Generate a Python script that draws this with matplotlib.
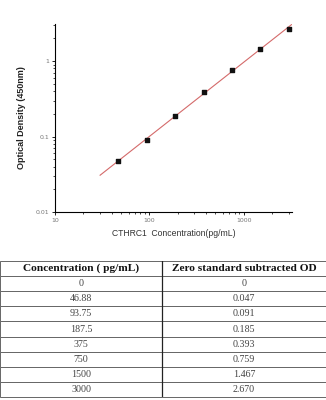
import matplotlib
matplotlib.use("Agg")
import matplotlib.pyplot as plt
import numpy as np

# standard curve data
conc = [0, 46.88, 93.75, 187.5, 375, 750, 1500, 3000]
od = [0, 0.047, 0.091, 0.185, 0.393, 0.759, 1.467, 2.670]
conc_labels = ["0", "46.88", "93.75", "187.5", "375", "750", "1500", "3000"]
od_labels = ["0", "0.047", "0.091", "0.185", "0.393", "0.759", "1.467", "2.670"]
col_labels = ["Concentration ( pg/mL)", "Zero standard subtracted OD"]
fit_range = (30, 3200)

fig = plt.figure(figsize=(3.26, 4.0), dpi=100)

# --- curve ---
ax = fig.add_axes([0.169, 0.47, 0.727, 0.47])
x = np.array(conc[1:]); y = np.array(od[1:])
k, b = np.polyfit(np.log10(x), np.log10(y), 1)
xf = np.logspace(np.log10(fit_range[0]), np.log10(fit_range[1]), 50)
ax.plot(xf, 10 ** (k * np.log10(xf) + b), color="#d46a6a", lw=0.8, zorder=1)
ax.scatter(x, y, marker="s", s=8, color="#111111", zorder=2)
ax.set_xscale("log"); ax.set_yscale("log")
ax.set_xlim(10, 3250); ax.set_ylim(0.01, 3.1)
ax.set_xticks([10, 100, 1000]); ax.set_xticklabels(["10", "100", "1000"])
ax.set_yticks([0.01, 0.1, 1]); ax.set_yticklabels(["0.01", "0.1", "1"])
for s in ("top", "right"):
    ax.spines[s].set_visible(False)
for s in ("left", "bottom"):
    ax.spines[s].set_linewidth(0.8)
ax.tick_params(which="major", length=2, width=0.6, labelsize=4.5, labelcolor="#777777", pad=2)
ax.tick_params(which="minor", length=1.2, width=0.5)
ax.set_xlabel("CTHRC1  Concentration(pg/mL)", fontsize=6.2, family="Liberation Sans",
              color="#333333", labelpad=5)
ax.set_ylabel("Optical Density (450nm)", fontsize=6.5, family="Liberation Sans",
              fontweight="bold", color="#222222", labelpad=7)

# --- table ---
tax = fig.add_axes([0.0, 0.0075, 1.0, 0.34])
tax.axis("off")
rows = [[c, o] for c, o in zip(conc_labels, od_labels)]
tbl = tax.table(cellText=rows, colLabels=col_labels, cellLoc="center",
                bbox=[0, 0, 1, 1], colWidths=[0.497, 0.503])
tbl.auto_set_font_size(False)
for (r, c), cell in tbl.get_celld().items():
    cell.set_edgecolor("#666666")
    cell.set_linewidth(0.7)
    t = cell.get_text()
    t.set_family("Liberation Serif")
    if r == 0:
        t.set_fontsize(8.2); t.set_fontweight("bold"); t.set_color("#111111")
    else:
        t.set_fontsize(7.2); t.set_color("#444444")
# darker column divider
tax.axvline(0.497, color="#222222", lw=0.9)

fig.savefig("out.png", dpi=100)
